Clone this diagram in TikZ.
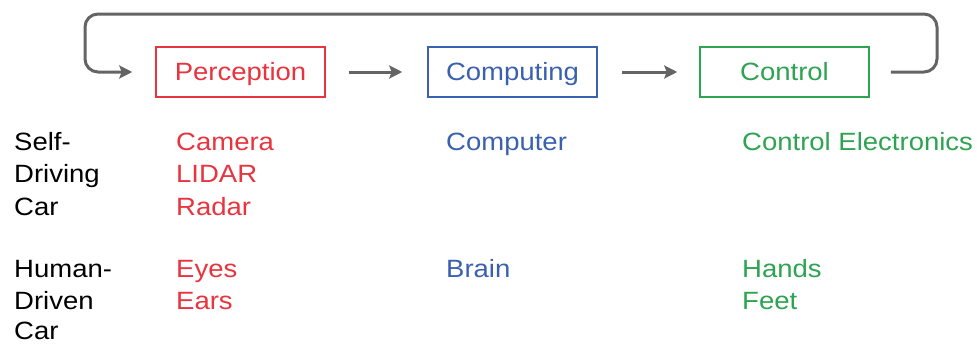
\documentclass[tikz,border=0pt]{standalone}
\usepackage{fontspec}
\setmainfont[FakeStretch=1.1]{Liberation Sans}
\usetikzlibrary{arrows.meta}
\definecolor{cred}{RGB}{232,52,62}
\definecolor{cblue}{RGB}{58,96,176}
\definecolor{cgreen}{RGB}{46,163,82}
\definecolor{cgray}{RGB}{100,100,100}
\begin{document}
\begin{tikzpicture}[x=1pt,y=-1pt,
  txt/.style={font=\fontsize{25}{30}\selectfont, anchor=base west, inner sep=0pt},
  stage/.style={draw, line width=1.5pt, minimum width=169pt, minimum height=50pt, inner sep=0pt, text height=17pt, text depth=0pt, font=\fontsize{25}{30}\selectfont},
  arr/.style={draw=cgray, line width=3pt, -{Stealth[length=13pt,width=13pt,inset=2.5pt]}},
]
\useasboundingbox (0,0) rectangle (977,343);
\node[stage, draw=cred, text=cred] (perc) at (240.5,72) {Perception};
\node[stage, draw=cblue, text=cblue] (comp) at (512.5,72) {Computing};
\node[stage, draw=cgreen, text=cgreen] (ctrl) at (784.5,72) {Control};
\draw[arr, shorten <=23pt, shorten >=25pt] (perc) -- (comp);
\draw[arr, shorten <=24pt, shorten >=22pt] (comp) -- (ctrl);
\coordinate (lr) at (937,72);
\coordinate (tr) at (937,14);
\coordinate (tl) at (85,14);
\coordinate (ll) at (85,72);
\draw[arr, rounded corners=13pt] ([xshift=21pt]ctrl.east) -- (lr) -- (tr) -- (tl) -- (ll) -- ([xshift=-23pt]perc.west);
% row labels
\node[txt] (l1) at (14,150) {Self-};
\node[txt] (l2) at (14,182) {Driving};
\node[txt] (l3) at (14,215) {Car};
\node[txt] (l4) at (14,277) {Human-};
\node[txt] (l5) at (14,309) {Driven};
\node[txt] (l6) at (14,339) {Car};
% perception
\node[txt, text=cred] (p1) at (176,150) {Camera};
\node[txt, text=cred] (p2) at (176,182) {LIDAR};
\node[txt, text=cred] (p3) at (176,215) {Radar};
\node[txt, text=cred] (p4) at (176,277) {Eyes};
\node[txt, text=cred] (p5) at (176,309) {Ears};
% computing
\node[txt, text=cblue] (c1) at (446,150) {Computer};
\node[txt, text=cblue] (c2) at (446,277) {Brain};
% control
\node[txt, text=cgreen] (k1) at (742,150) {Control Electronics};
\node[txt, text=cgreen] (k2) at (742,277) {Hands};
\node[txt, text=cgreen] (k3) at (742,309) {Feet};
\end{tikzpicture}
\end{document}
